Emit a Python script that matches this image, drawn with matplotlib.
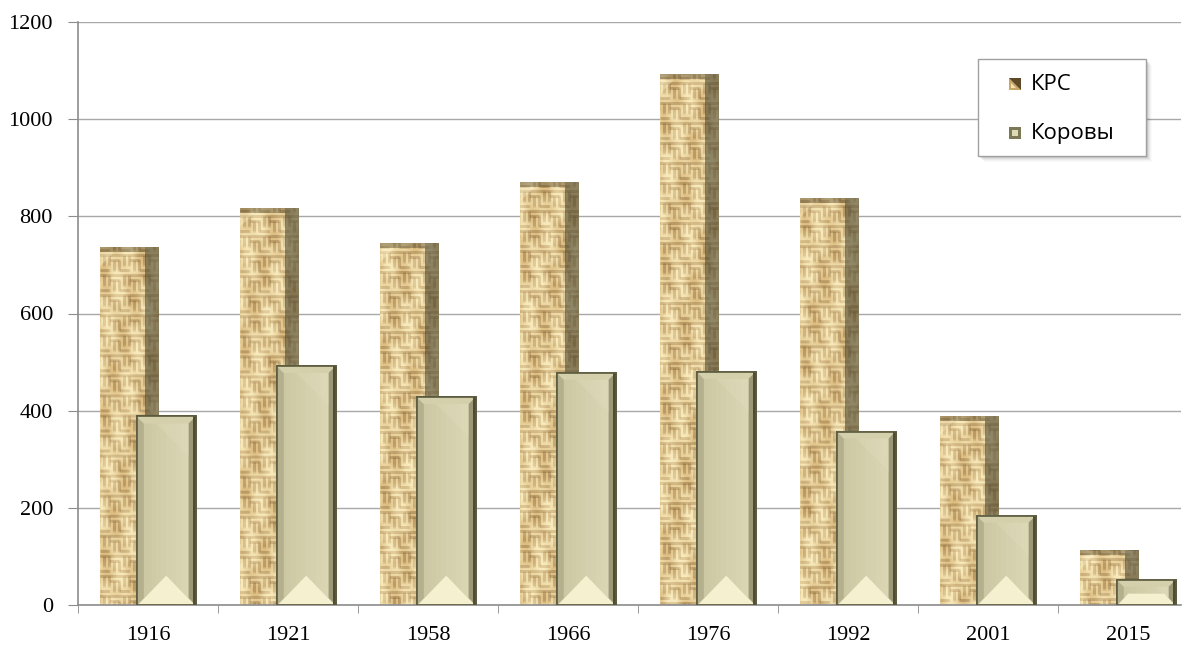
import numpy as np
import matplotlib
matplotlib.use("Agg")
import matplotlib.pyplot as plt
from matplotlib.patches import Rectangle, Polygon
from matplotlib.transforms import IdentityTransform

# Поголовье скота по годам
years = ["1916", "1921", "1958", "1966", "1976", "1992", "2001", "2015"]
krs = [737, 818, 745, 870, 1092, 838, 390, 113]      # КРС
cows = [388, 492, 428, 478, 480, 357, 184, 52]       # Коровы
series_names = ["КРС", "Коровы"]
y_ticks = [0, 200, 400, 600, 800, 1000, 1200]

W, H, DPI = 1187, 646, 100
fig = plt.figure(figsize=(W / DPI, H / DPI), dpi=DPI)
fig.patch.set_facecolor("white")

left_px, right_px, top_px, bottom_px = 78, 1181, 22, 605
ax = fig.add_axes([left_px / W, (H - bottom_px) / H,
                   (right_px - left_px) / W, (bottom_px - top_px) / H])
slot_px = 140.0
ax.set_xlim(-0.5, -0.5 + (right_px - left_px) / slot_px)
ax.set_ylim(0, 1200)

x = np.arange(len(years))
bw = 0.42
off = 0.13

# --- axes styling ---
serif = "Liberation Serif"
ax.set_yticks(y_ticks)
ax.set_yticklabels([str(v) for v in y_ticks], fontsize=16, family=serif)
ax.set_xticks(x)
ax.set_xticklabels(years, fontsize=16, family=serif)
ax.set_xticks(np.arange(-0.5, len(years) - 0.5, 1.0), minor=True)
ax.tick_params(axis="x", which="major", length=0, pad=15)
ax.tick_params(axis="x", which="minor", length=6, color="#8c8c8c", direction="out")
ax.tick_params(axis="y", length=7, color="#8c8c8c", pad=11)
for s in ("top", "right"):
    ax.spines[s].set_visible(False)
for s in ("left", "bottom"):
    ax.spines[s].set_color("#8c8c8c")
    ax.spines[s].set_linewidth(1.2)
ax.yaxis.grid(True, color="#a8a8a8", linewidth=1.0)
ax.set_axisbelow(True)

PIX = IdentityTransform()


def px_patch(p, z, color=None, alpha=1.0, **kw):
    """Add a patch given in pixel coordinates to the axes."""
    p.set_transform(PIX)
    if color is not None:
        p.set_facecolor(color)
    p.set_alpha(alpha)
    p.set_linewidth(kw.get("lw", 0))
    if "ec" in kw:
        p.set_edgecolor(kw["ec"])
    p.set_zorder(z)
    p.set_clip_on(kw.get("clip", True))
    ax.add_artist(p)
    return p


def weave_texture(h, w, phase):
    """Burlap-like basket weave as an RGB array of h x w pixels."""
    yy, xx = np.mgrid[0:h, 0:w].astype(float)
    cell = 10
    shift = 5 * ((xx // cell) % 2)
    cx = (xx // cell).astype(int)
    cy = ((yy + shift) // cell).astype(int)
    fx = xx % cell
    fy = (yy + shift) % cell
    horiz = ((cx + cy) % 2 == 0)
    thread_h = (fy % 5) < 3.2
    thread_v = (fx % 5) < 3.2
    m = np.where(horiz, thread_h, thread_v).astype(float)
    # slow mottling of the cloth
    mott = (0.45 + 0.3 * np.sin(xx * 0.17 + yy * 0.043 + phase)
            + 0.25 * np.sin(yy * 0.09 - xx * 0.29 + 2.1 * phase)
            + 0.15 * np.sin(yy * 0.31 + xx * 0.11 + 0.7 * phase))
    mott = np.clip(mott, 0, 1)
    light_a = np.array([248, 234, 188]) / 255.0
    light_b = np.array([216, 180, 116]) / 255.0
    gap_a = np.array([182, 144, 86]) / 255.0
    gap_b = np.array([112, 80, 40]) / 255.0
    mm = mott[..., None]
    light = light_a * (1 - 0.8 * mm) + light_b * (0.8 * mm)
    gap = gap_a * (1 - mm) + gap_b * mm
    img = light * m[..., None] + gap * (1 - m[..., None])
    # soften
    acc = np.zeros_like(img)
    for dy in (-1, 0, 1):
        for dx in (-1, 0, 1):
            acc += np.roll(np.roll(img, dy, axis=0), dx, axis=1)
    return np.clip(acc / 9.0, 0, 1)


to_disp = ax.transData

# --- КРС: textured bars ---
krs_bars = ax.bar(x - off, krs, width=bw, color="#cdb07a", linewidth=0, zorder=2)
for i, b in enumerate(krs_bars):
    (x0, y0), (x1, y1) = to_disp.transform([(b.get_x(), 0), (b.get_x() + b.get_width(), b.get_height())])
    hp, wp = max(int(round(y1 - y0)), 2), max(int(round(x1 - x0)), 2)
    tex = weave_texture(hp, wp, phase=1.3 * i)
    im = ax.imshow(tex, extent=(b.get_x(), b.get_x() + b.get_width(), 0, b.get_height()),
                   aspect="auto", origin="upper", zorder=2.1, interpolation="bilinear")
    im.set_clip_path(b)
    # shaded side strip on the right and dark band on top
    px_patch(Rectangle((x1 - 14, y0), 14, y1 - y0), 2.2, "#4a4630", 0.6)
    px_patch(Rectangle((x0, y1 - 5), x1 - x0 - 14, 5), 2.2, "#4a3c22", 0.4)
    px_patch(Polygon([(x0, y1 - 5), (x0 + 14, y1 - 5), (x0, y1 - 19)]), 2.2, "#fff4d0", 0.35)

# --- Коровы: bevelled bars ---
cow_bars = ax.bar(x + off, cows, width=bw, color="#d5d1a6", edgecolor="#5b5a3e",
                  linewidth=1.3, zorder=3)
for b in cow_bars:
    (x0, y0), (x1, y1) = to_disp.transform([(b.get_x(), 0), (b.get_x() + b.get_width(), b.get_height())])
    w = x1 - x0
    h = y1 - y0
    bev = 7
    xc = (x0 + x1) / 2
    # face gradient, darker on the left
    n = 12
    for k in range(n):
        t = k / (n - 1)
        c = (np.array([202, 198, 162]) * (1 - t) + np.array([220, 216, 182]) * t) / 255.0
        px_patch(Rectangle((x0 + k * w / n, y0), w / n + 0.5, h), 3.1, c)
    # left, top and right bevels
    px_patch(Polygon([(x0, y0), (x0 + bev, y0 + bev), (x0 + bev, y1 - bev), (x0, y1)]), 3.1,
             np.array([180, 176, 142]) / 255.0)
    px_patch(Polygon([(x0, y1), (x0 + bev, y1 - bev), (x1 - bev, y1 - bev), (x1, y1)]), 3.1,
             np.array([212, 208, 172]) / 255.0)
    px_patch(Polygon([(x1, y0), (x1 - bev, y0 + bev), (x1 - bev, y1 - bev), (x1, y1)]), 3.1,
             np.array([156, 152, 118]) / 255.0)
    # faint diagonal highlight from the top-right corner
    dlen = min(w * 0.55, h * 0.5)
    px_patch(Polygon([(x1 - bev, y1 - bev), (x1 - bev, y1 - bev - dlen), (x1 - bev - dlen, y1 - bev)]),
             3.1, np.array([226, 222, 190]) / 255.0, 0.35)
    # bright bottom facet
    apex = 0.5 * w
    hh = min(apex, 0.45 * h)
    half = (w / 2) * (1 - hh / apex)
    px_patch(Polygon([(x0 + 2, y0 + 1), (x1 - 2, y0 + 1), (xc + half, y0 + hh), (xc - half, y0 + hh)]),
             3.1, np.array([244, 240, 208]) / 255.0)
    # dark rim on the right and outline
    px_patch(Rectangle((x1 - 3, y0), 3, h), 3.1, np.array([78, 76, 52]) / 255.0)
    px_patch(Rectangle((x0, y0), w, h), 3.2, "none", lw=1.2, ec="#5b5a3e")

# --- legend drawn in pixel coordinates (y measured from the top) ---
lx0, ly0, lx1, ly1 = 978, 59, 1146, 156
for k, a in enumerate([0.09, 0.07, 0.05, 0.035, 0.02]):
    px_patch(Rectangle((lx0 + 2 + k, H - ly1 - 2 - k), lx1 - lx0, ly1 - ly0), 9, "#303030", a, clip=False)
px_patch(Rectangle((lx0, H - ly1), lx1 - lx0, ly1 - ly0), 10, "white", lw=1.0, ec="#a0a0a0", clip=False)

row_y = [84, 133]
mk = 12
# КРС marker: textured square with a dark diagonal
mx0 = 1009
yb = H - row_y[0] - mk / 2
px_patch(Rectangle((mx0, yb), mk, mk), 11, "#c9a867", clip=False)
px_patch(Polygon([(mx0, yb + mk), (mx0 + mk, yb + mk), (mx0 + mk, yb)]), 11, "#5e4a28", clip=False)
px_patch(Polygon([(mx0 + 2, yb + 2), (mx0 + 7, yb + 2), (mx0 + 2, yb + 7)]), 11, "#f2e2b4", clip=False)
# Коровы marker: bevelled square
yb = H - row_y[1] - mk / 2
px_patch(Rectangle((mx0, yb), mk, mk), 11, "#7a7856", clip=False)
px_patch(Rectangle((mx0 + 3, yb + 3), mk - 6, mk - 6), 11, "#dedab4", clip=False)

for name, ry in zip(series_names, row_y):
    fig.text(1031 / W, 1 - ry / H, name, ha="left", va="center", fontsize=16,
             family=["Open Sans", "DejaVu Sans"], color="black", zorder=12)

fig.savefig("out.png", dpi=DPI, facecolor="white")
